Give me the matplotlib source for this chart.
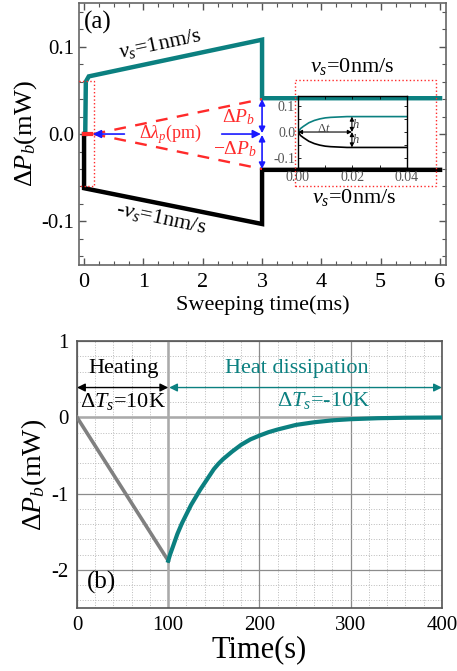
import matplotlib
matplotlib.use("Agg")
import matplotlib.pyplot as plt
from matplotlib.ticker import MultipleLocator
from matplotlib.patches import Rectangle

plt.rcParams['font.family'] = ['Liberation Serif', 'DejaVu Serif']
plt.rcParams['mathtext.fontset'] = 'custom'
plt.rcParams['mathtext.rm'] = 'Liberation Serif'
plt.rcParams['mathtext.it'] = 'Liberation Serif:italic'
plt.rcParams['axes.unicode_minus'] = False

TEAL = '#0b8080'
RED = '#ff2a2a'
BLUE = '#1a1aff'

# ---------------- data (a) ----------------
teal_t = [0.02, 0.03, 0.08, 3.0, 3.0, 6.0]
teal_p = [0.0, 0.060, 0.066, 0.108, 0.041, 0.041]
black_t = [0.0, 0.0, 3.0, 3.0, 6.0]
black_p = [0.0, -0.062, -0.103, -0.041, -0.041]
wedge_t = [0.16, 3.0]
wedge_up = [0.0, 0.040]
wedge_dn = [0.0, -0.040]
xticks_a = [0, 1, 2, 3, 4, 5, 6]
yticks_a = [-0.1, 0.0, 0.1]
yticklabels_a = ['-0.1', '0.0', '0.1']

# inset data
ins_t = [0, 0.001, 0.002, 0.004, 0.006, 0.008, 0.010, 0.012, 0.014, 0.016, 0.018, 0.020, 0.030, 0.040]
ins_up = [0, 0.014, 0.022, 0.036, 0.045, 0.051, 0.055, 0.057, 0.058, 0.059, 0.060, 0.060, 0.060, 0.060]
ins_dn = [-v for v in ins_up]

# ---------------- data (b) ----------------
heat_t = [0, 100]
heat_p = [0.0, -1.88]
diss_t = [100, 102, 105, 110, 115, 120, 125, 130, 135, 140, 145, 150, 155, 160, 165, 170, 180, 190,
          200, 210, 220, 240, 260, 280, 300, 330, 360, 400]
diss_p = [-1.88, -1.80, -1.70, -1.53, -1.39, -1.27, -1.15, -1.05, -0.95, -0.86, -0.77, -0.68,
          -0.61, -0.55, -0.50, -0.45, -0.36, -0.29, -0.24, -0.195, -0.16, -0.10, -0.065, -0.04,
          -0.025, -0.012, -0.006, -0.003]

fig = plt.figure(figsize=(4.57, 6.71), dpi=100)

# ================= panel (a) =================
ax = fig.add_axes([0.1729, 0.605, 0.803, 0.3905])
ax.plot(teal_t, teal_p, color=TEAL, lw=3.2, solid_joinstyle='miter', zorder=3)
ax.plot(black_t, black_p, color='black', lw=3.2, solid_joinstyle='miter', zorder=3)
ax.plot(wedge_t, wedge_up, color=RED, lw=1.7, ls=(0, (5, 4)), zorder=4)
ax.plot(wedge_t, wedge_dn, color=RED, lw=1.7, ls=(0, (5, 4)), zorder=4)
ax.plot([0.0, 0.12], [0, 0], color=RED, lw=3, zorder=5)

# red dotted boxes
ax.add_patch(Rectangle((-0.19, -0.060), 0.36, 0.121, fill=False, ec=RED, lw=1, ls=':', zorder=6))
ax.add_patch(Rectangle((3.56, -0.060), 2.38, 0.122, fill=False, ec=RED, lw=1, ls=':', zorder=6))

# blue arrows
ap = dict(arrowstyle='-|>', color=BLUE, lw=1.2, mutation_scale=12, shrinkA=0, shrinkB=0)
ax.annotate('', xy=(0.15, 0), xytext=(0.68, 0), arrowprops=ap, zorder=7)
ax.annotate('', xy=(2.98, 0), xytext=(2.32, 0), arrowprops=ap, zorder=7)
ap2 = dict(arrowstyle='<|-|>', color=BLUE, lw=1.2, mutation_scale=9, shrinkA=0, shrinkB=0)
ax.annotate('', xy=(3.0, 0.040), xytext=(3.0, 0.001), arrowprops=ap2, zorder=7)
ax.annotate('', xy=(3.0, -0.040), xytext=(3.0, -0.001), arrowprops=ap2, zorder=7)

ax.set_xlim(-0.085, 6.1)
ax.set_ylim(-0.15, 0.15)
ax.set_xticks(xticks_a)
ax.set_yticks(yticks_a)
ax.set_yticklabels(yticklabels_a)
ax.xaxis.set_minor_locator(MultipleLocator(0.25))
ax.yaxis.set_minor_locator(MultipleLocator(0.02))
ax.tick_params(which='both', direction='in', top=True, right=True, color='#555555')
ax.tick_params(which='major', length=5, width=1)
ax.tick_params(which='minor', length=3, width=0.8)
ax.tick_params(axis='x', labelsize=16, pad=6)
ax.tick_params(axis='y', labelsize=15)
for s in ax.spines.values():
    s.set_color('#666666')
    s.set_linewidth(1.2)
ax.set_xlabel('Sweeping time(ms)', fontsize=16, labelpad=2)
ax.set_ylabel(r'$\Delta P_b$(mW)', fontsize=19, labelpad=2)

ax.text(0.0, 0.128, '(a)', fontsize=18, ha='left', va='center')
ax.text(1.28, 0.103, r'$v_s$=1nm/s', fontsize=16, rotation=12, ha='center', va='center')
ax.text(1.3, -0.097, r'-$v_s$=1nm/s', fontsize=16, rotation=-12, ha='center', va='center')
ax.text(4.52, 0.077, r'$v_s$=0nm/s', fontsize=16, ha='center', va='center')
ax.text(4.55, -0.073, r'$v_s$=0nm/s', fontsize=16, ha='center', va='center')
ax.text(1.45, 0.0, r'$\Delta\lambda_p$(pm)', fontsize=13, color=RED, ha='center', va='center')
ax.text(2.6, 0.019, r'$\Delta P_b$', fontsize=14, color=RED, ha='center', va='center')
ax.text(2.55, -0.017, r'$-\Delta P_b$', fontsize=14, color=RED, ha='center', va='center')

# ---------------- inset ----------------
ai = fig.add_axes([0.652, 0.7496, 0.2385, 0.1073])
ai.patch.set_alpha(0)
ai.plot(ins_t, ins_up, color=TEAL, lw=1.2)
ai.plot(ins_t, ins_dn, color='black', lw=1.2)
api = dict(arrowstyle='<|-|>', color='black', lw=0.8, mutation_scale=6, shrinkA=0, shrinkB=0)
ai.annotate('', xy=(0.0, 0.0), xytext=(0.0198, 0.0), arrowprops=api)
ai.annotate('', xy=(0.0198, 0.0), xytext=(0.0198, ins_up[-1]), arrowprops=api)
ai.annotate('', xy=(0.0198, 0.0), xytext=(0.0198, ins_dn[-1]), arrowprops=api)
ai.text(0.0095, 0.012, r'$\Delta t$', fontsize=9, color='#444444', ha='center', va='center')
ai.text(0.0212, 0.03, r'$h$', fontsize=9, color='#444444', ha='center', va='center')
ai.text(0.0212, -0.03, r'$h$', fontsize=9, color='#444444', ha='center', va='center')
ai.set_xlim(0, 0.04)
ai.set_ylim(-0.14, 0.14)
ai.set_xticks([0.0, 0.02, 0.04])
ai.set_xticklabels(['0.00', '0.02', '0.04'])
ai.set_yticks([-0.1, 0.0, 0.1])
ai.set_yticklabels(['-0.1', '0.0', '0.1'])
ai.xaxis.set_minor_locator(MultipleLocator(0.01))
ai.yaxis.set_minor_locator(MultipleLocator(0.05))
ai.tick_params(which='both', direction='in', top=True, right=True, length=2, width=0.6,
               labelsize=10, labelcolor='#555555', pad=2)
for s in ai.spines.values():
    s.set_color('black')
    s.set_linewidth(1.0)

# ================= panel (b) =================
bx = fig.add_axes([0.1685, 0.0939, 0.7985, 0.3979])
bx.set_xlim(0, 400)
bx.set_ylim(-2.5, 1)
bx.set_xticks([0, 100, 200, 300, 400])
bx.set_yticks([-2, -1, 0, 1])
bx.xaxis.set_minor_locator(MultipleLocator(20))
bx.yaxis.set_minor_locator(MultipleLocator(0.2))
bx.grid(which='major', color='#8c8c8c', lw=0.9)
bx.grid(which='minor', color='#bbbbbb', lw=0.7, ls=':')
bx.set_axisbelow(True)
bx.axhline(0, color='#aaaaaa', lw=1.8, zorder=1)
bx.axvline(100, color='#aaaaaa', lw=1.8, zorder=1)
bx.plot(heat_t, heat_p, color='#808080', lw=2.6, zorder=3)
bx.plot(diss_t, diss_p, color=TEAL, lw=3.0, zorder=3)
bx.tick_params(which='both', length=0, labelsize=15, pad=6)
for s in bx.spines.values():
    s.set_color('#555555')
    s.set_linewidth(1.2)
bx.set_xlabel('Time(s)', fontsize=22, labelpad=0)
bx.set_ylabel(r'$\Delta P_b$(mW)', fontsize=20, labelpad=2)

apk = dict(arrowstyle='<|-|>', color='black', lw=1.0, mutation_scale=12, shrinkA=0, shrinkB=0)
bx.annotate('', xy=(0, 0.39), xytext=(100, 0.39), arrowprops=apk)
apt = dict(arrowstyle='<|-|>', color=TEAL, lw=1.0, mutation_scale=12, shrinkA=0, shrinkB=0)
bx.annotate('', xy=(101, 0.39), xytext=(400, 0.39), arrowprops=apt)
bx.text(51, 0.64, 'Heating', fontsize=16, ha='center', va='center')
bx.text(241, 0.64, 'Heat dissipation', fontsize=16, color=TEAL, ha='center', va='center')
bx.text(50, 0.21, r'$\Delta T_s$=10K', fontsize=16, ha='center', va='center')
bx.text(270, 0.22, r'$\Delta T_s$=-10K', fontsize=16, color=TEAL, ha='center', va='center')
bx.text(27, -2.17, '(b)', fontsize=18, ha='center', va='center')

fig.savefig('out.png', dpi=100)
